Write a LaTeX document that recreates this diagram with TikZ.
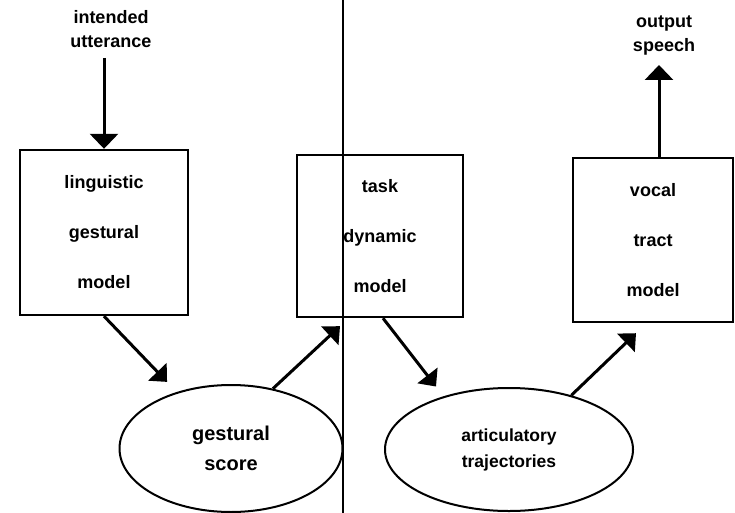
\documentclass[tikz,border=0pt]{standalone}
\usepackage{fontspec}
\setmainfont{Liberation Sans}
\usetikzlibrary{arrows.meta,shapes.geometric}
\begin{document}
\begin{tikzpicture}[x=1pt,y=-1pt,
  lbl/.style={font=\bfseries\fontsize{18}{24}\selectfont, align=center, inner sep=0pt},
  boxnode/.style={draw, line width=2.4pt, align=center, inner sep=0pt,
    font=\bfseries\fontsize{18}{50}\selectfont},
  ellnode/.style={draw, ellipse, line width=2pt, inner sep=0pt, align=center},
  arr/.style={line width=3pt, -{Triangle[width=25pt,length=14pt]}},
  varr/.style={line width=3pt, -{Triangle[width=28pt,length=15pt]}}
]
\useasboundingbox (0,0) rectangle (735,513);
% divider
\draw[line width=1.2pt] (343,0) -- (343,513);
% top labels
\node[lbl, anchor=north] (iu) at (111,10) {intended\\utterance};
\node[lbl, anchor=north] (os) at (664,15.5) {output\\speech};
\coordinate (iuarrow) at (104,58);
\coordinate (ostip) at (659,65);
% boxes
\node[boxnode, minimum width=168pt, minimum height=165pt] (b1) at (104,232.5) {linguistic\\gestural\\model};
\node[boxnode, minimum width=166pt, minimum height=162pt] (b2) at (380,236) {task\\dynamic\\model};
\node[boxnode, minimum width=160pt, minimum height=164pt] (b3) at (653,240) {vocal\\tract\\model};
% ellipses
\node[ellnode, minimum width=223pt, minimum height=127pt,
  font=\bfseries\fontsize{20}{30}\selectfont] (e1) at (231,448.5) {gestural\\score};
\node[ellnode, minimum width=248pt, minimum height=123pt,
  font=\bfseries\fontsize{17.5}{26}\selectfont] (e2) at (509,449.5) {articulatory\\trajectories};
% connectors
\draw[varr] (iuarrow) -- (b1.north);
\draw[arr, shorten >=14pt] (b1.south) -- (e1);
\draw[arr] (e1.55) -- ([shift={(-40pt,-8pt)}]b2.south);
\draw[arr] ([xshift=3pt]b2.south) -- ([shift={(-73pt,63pt)}]e2.center);
\draw[arr] (e2.41) -- ([shift={(-17pt,-10pt)}]b3.south);
\draw[varr] ([xshift=6pt]b3.north) -- (ostip);
\end{tikzpicture}
\end{document}
